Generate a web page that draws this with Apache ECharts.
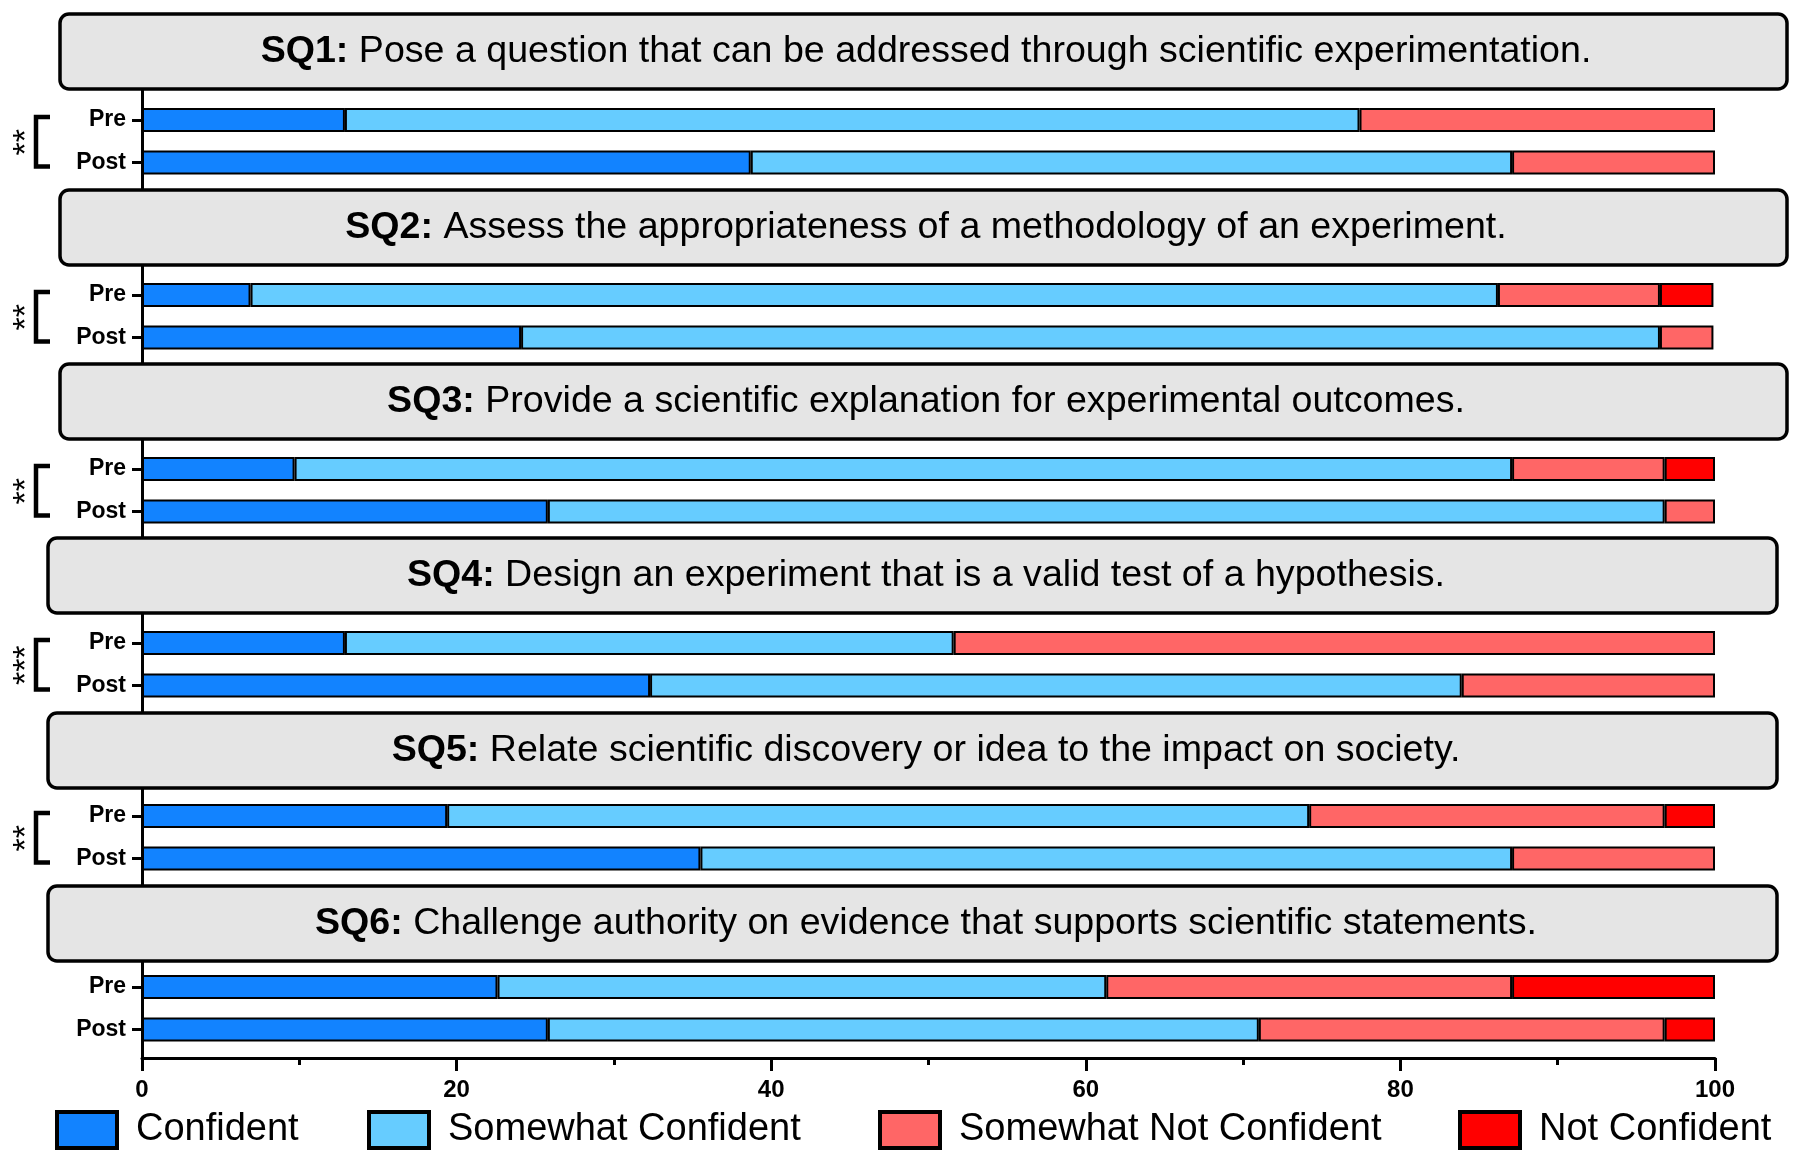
<!DOCTYPE html>
<html><head><meta charset="utf-8">
<script src="https://cdn.jsdelivr.net/npm/echarts@6/dist/echarts.min.js"></script>
<style>html,body{margin:0;padding:0;background:#fff}#c{width:1800px;height:1157px}</style>
</head><body><div id="c"></div>
<script>
// ---------------- DATA ----------------
const categories = ['Pre', 'Post'];
const legendNames = ['Confident', 'Somewhat Confident', 'Somewhat Not Confident', 'Not Confident'];
const questionIds = ['SQ1:', 'SQ2:', 'SQ3:', 'SQ4:', 'SQ5:', 'SQ6:'];
const questionTexts = [
  'Pose a question that can be addressed through scientific experimentation.',
  'Assess the appropriateness of a methodology of an experiment.',
  'Provide a scientific explanation for experimental outcomes.',
  'Design an experiment that is a valid test of a hypothesis.',
  'Relate scientific discovery or idea to the impact on society.',
  'Challenge authority on evidence that supports scientific statements.'
];
const significance = ['**', '**', '**', '***', '**', ''];
// [Pre, Post] percentages per question
const confident            = [[12.9, 38.7], [6.9, 24.1], [9.7, 25.8], [12.9, 32.3], [19.4, 35.5], [22.6, 25.8]];
const somewhatConfident    = [[64.5, 48.4], [79.3, 72.4], [77.4, 71.0], [38.7, 51.6], [54.8, 51.6], [38.7, 45.2]];
const somewhatNotConfident = [[22.6, 12.9], [10.3, 3.4], [9.7, 3.2], [48.4, 16.1], [22.6, 12.9], [25.8, 25.8]];
const notConfident         = [[0, 0], [3.4, 0], [3.2, 0], [0, 0], [3.2, 0], [12.9, 3.2]];
const xMin = 0, xMax = 100, xInterval = 20;

// ---------------- LAYOUT / STYLE ----------------
const FONT = 'Liberation Sans, Arial, Helvetica, sans-serif';
const colors = ['#1283FF', '#66CCFF', '#FF6666', '#FF0000'];
const seriesData = [confident, somewhatConfident, somewhatNotConfident, notConfident];
const boxTop = [14, 190, 364, 538, 713, 886];
const boxH = 75;
const boxLeft = [60, 60, 60, 48, 48, 48];
const boxRight = [1787, 1787, 1787, 1777, 1777, 1777];
const preCenter = [120, 295, 469, 643, 816, 987];
const rowGap = 42.5;
const gridLeft = 142, gridRight = 85;
const legendLeft = [55, 367, 878, 1458];

const chart = echarts.init(document.getElementById('c'), null, {renderer: 'canvas'});

const grids = [{left: gridLeft, right: gridRight, top: 89, bottom: 99}];
const xAxes = [{
  gridIndex: 0, type: 'value', min: xMin, max: xMax, interval: xInterval,
  axisLine: {show: true, onZero: false, lineStyle: {color: '#000', width: 3}},
  axisTick: {show: true, length: 13, lineStyle: {color: '#000', width: 3}},
  minorTick: {show: true, splitNumber: 2, length: 7, lineStyle: {color: '#000', width: 3}},
  splitLine: {show: false},
  axisLabel: {fontSize: 24, fontWeight: 'bold', color: '#000', fontFamily: FONT, margin: 20}
}];
const yAxes = [{
  gridIndex: 0, type: 'value', min: 0, max: 1,
  axisLine: {show: true, onZero: false, lineStyle: {color: '#000', width: 3}},
  axisTick: {show: false}, axisLabel: {show: false}, splitLine: {show: false}
}];
const series = [];
for (let g = 0; g < 6; g++) {
  grids.push({left: gridLeft, right: gridRight, top: preCenter[g] - rowGap / 2, height: rowGap * 2});
  xAxes.push({gridIndex: g + 1, type: 'value', min: xMin, max: xMax, show: false});
  yAxes.push({
    gridIndex: g + 1, type: 'category', data: categories, inverse: true,
    axisLine: {show: false},
    axisTick: {show: true, alignWithLabel: true, length: 10, lineStyle: {color: '#000', width: 3}},
    axisLabel: {fontSize: 23, fontWeight: 'bold', color: '#000', fontFamily: FONT, margin: 16},
    splitLine: {show: false}
  });
  for (let s = 0; s < 4; s++) {
    series.push({
      type: 'bar', name: legendNames[s], stack: 'st' + g,
      xAxisIndex: g + 1, yAxisIndex: g + 1, barWidth: 24,
      data: seriesData[s][g].map(v => v === 0 ? '-' : v),
      itemStyle: {color: colors[s], borderColor: '#000', borderWidth: 2},
      emphasis: {disabled: true}
    });
  }
}

const legends = legendNames.map((n, i) => ({
  data: [n], left: legendLeft[i], top: 1110, padding: 0,
  itemWidth: 60, itemHeight: 36, icon: 'rect',
  itemStyle: {borderColor: '#000', borderWidth: 4},
  textStyle: {fontSize: 38, color: '#000', fontFamily: FONT, padding: [0, 0, 0, 14]}
}));

chart.setOption({
  animation: false,
  backgroundColor: '#fff',
  grid: grids, xAxis: xAxes, yAxis: yAxes, series: series,
  legend: legends
});

// headers and significance brackets
const graphics = [];
for (let g = 0; g < 6; g++) {
  graphics.push({
    type: 'rect', z: 100,
    shape: {x: boxLeft[g], y: boxTop[g], width: boxRight[g] - boxLeft[g], height: boxH, r: 9},
    style: {fill: '#E5E5E5', stroke: '#000', lineWidth: 3.5}
  });
  graphics.push({
    type: 'text', z: 101, x: 926, y: boxTop[g] + boxH / 2,
    style: {
      text: '{b|' + questionIds[g] + '}{r| ' + questionTexts[g] + '}',
      rich: {
        b: {fontSize: 37.6, fontWeight: 'bold', fontFamily: FONT, fill: '#000'},
        r: {fontSize: 37.6, fontWeight: 'normal', fontFamily: FONT, fill: '#000'}
      },
      fontSize: 37.6, fontFamily: FONT, fill: '#000', align: 'center', verticalAlign: 'middle'
    }
  });
  if (significance[g]) {
    const yPre = chart.convertToPixel({yAxisIndex: g + 1}, categories[0]);
    const yPost = chart.convertToPixel({yAxisIndex: g + 1}, categories[1]);
    graphics.push({
      type: 'polyline', z: 100,
      shape: {points: [[50, yPre - 3], [36, yPre - 3], [36, yPost + 4], [50, yPost + 4]]},
      style: {stroke: '#000', lineWidth: 4.5, fill: null}
    });
    graphics.push({
      type: 'text', z: 100, x: 27, y: (yPre + yPost) / 2 + 1, rotation: Math.PI / 2,
      style: {text: significance[g], fontSize: 34, fontFamily: FONT, fill: '#000', align: 'center', verticalAlign: 'middle'}
    });
  }
}
chart.setOption({graphic: graphics});
</script>
</body></html>
